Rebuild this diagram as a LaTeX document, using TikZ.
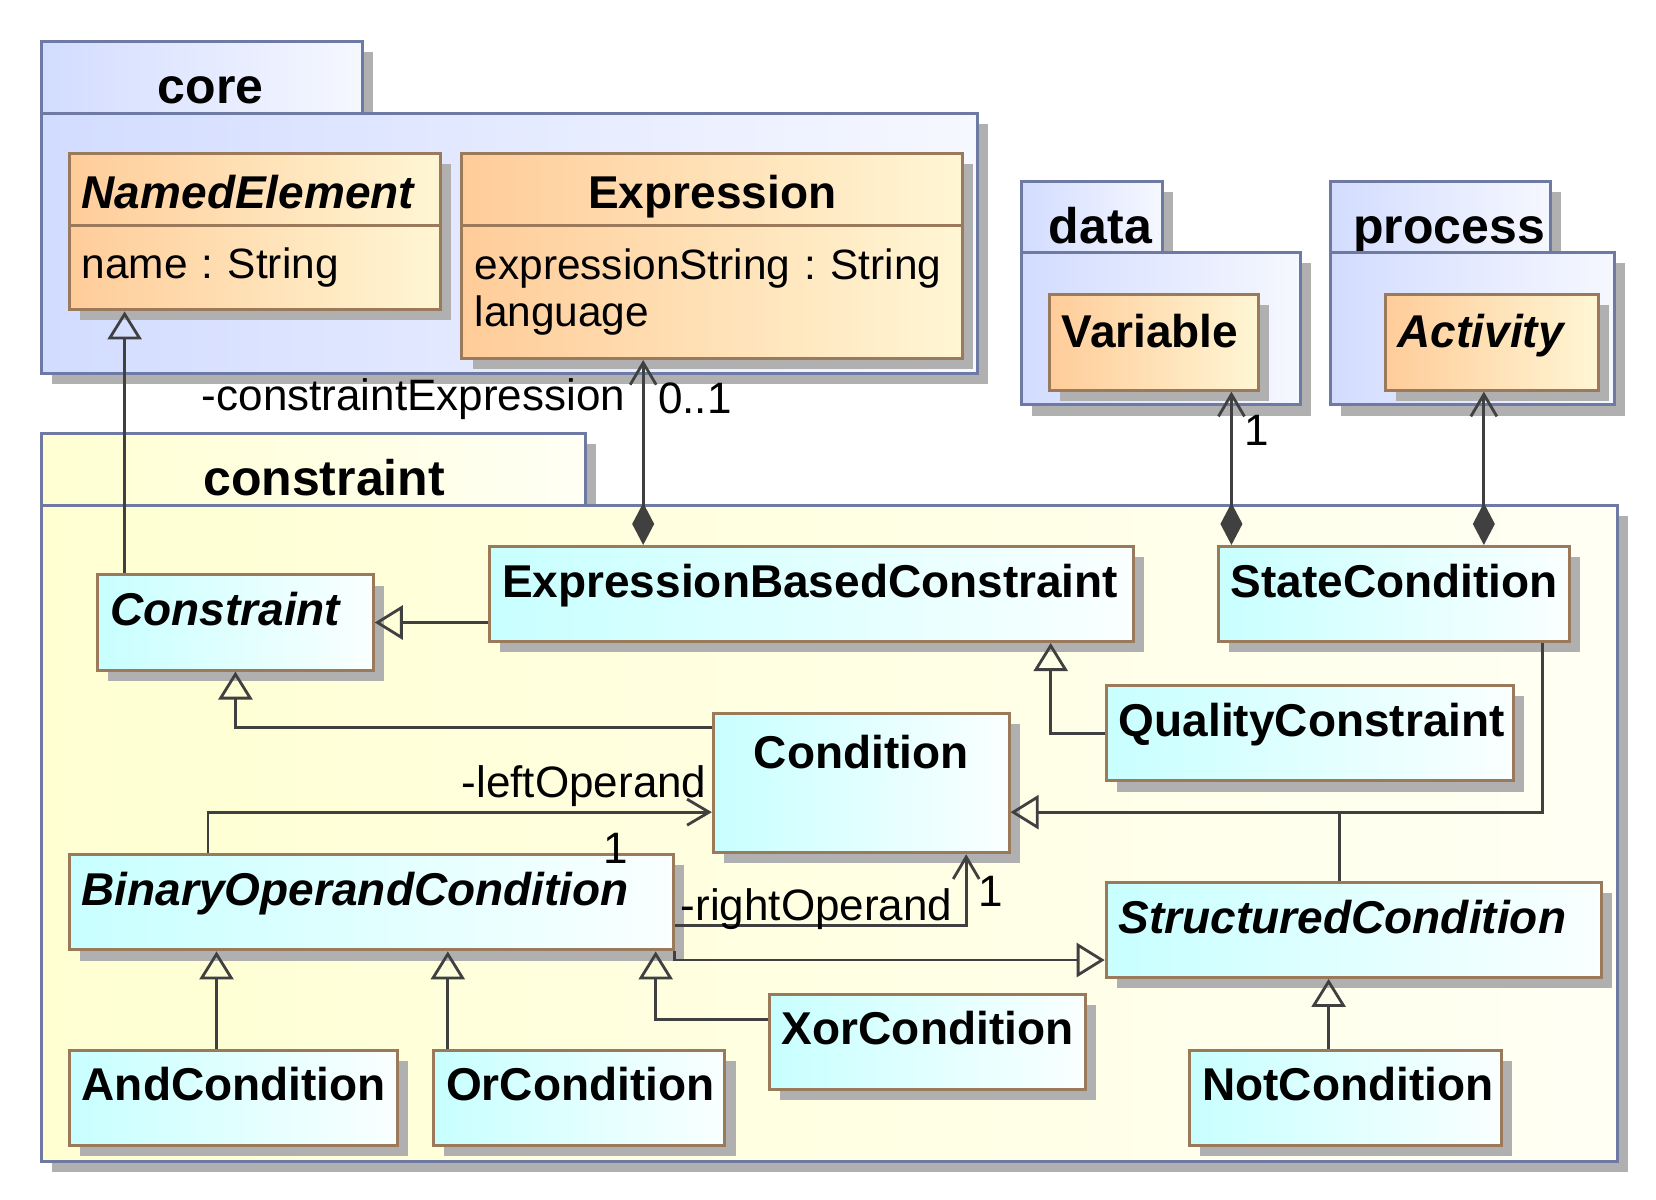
\documentclass[tikz,border=0pt]{standalone}
\usepackage{fontspec}
\setmainfont{Liberation Sans}
\usepackage{tikz}
\usetikzlibrary{arrows.meta,shadows,positioning}

\newlength{\upx}
\setlength{\upx}{0.528pt}

\definecolor{pkgline}{HTML}{6E7AA3}
\definecolor{pkgblue}{HTML}{D2DCFF}
\definecolor{pkgblueR}{HTML}{F6F8FF}
\definecolor{pkgyellow}{HTML}{FFFFD2}
\definecolor{pkgyellowR}{HTML}{FFFFF4}
\definecolor{clsline}{HTML}{9A7A5A}
\definecolor{orangeL}{HTML}{FFCC99}
\definecolor{orangeR}{HTML}{FFF6D4}
\definecolor{cyanL}{HTML}{C8FFFF}
\definecolor{cyanR}{HTML}{FAFFFF}
\definecolor{shadowgray}{HTML}{B0B0B0}
\definecolor{linegray}{HTML}{404040}

\newcommand{\clsfont}{\fontsize{23}{27}\selectfont\bfseries}
\newcommand{\pkgfont}{\fontsize{25}{30}\selectfont\bfseries}
\newcommand{\lblfont}{\fontsize{22}{23.2}\selectfont}
\newcommand{\attrfont}{\fontsize{21.2}{23.2}\selectfont}

\tikzset{
  boxshadow/.style={drop shadow={shadow xshift=5.3pt, shadow yshift=-5.3pt, fill=shadowgray, opacity=1}},
  pkgbody/.style={draw=pkgline, line width=1.5pt, boxshadow, anchor=north west, inner sep=0pt},
  pkgtab/.style={pkgbody, font=\pkgfont, text height=59\upx, text depth=9\upx},
  bluepkg/.style={left color=pkgblue, right color=pkgblueR},
  yellowpkg/.style={left color=pkgyellow, right color=pkgyellowR},
  clsbase/.style={draw=clsline, line width=1.5pt, boxshadow, anchor=north west, inner xsep=12\upx, inner ysep=0pt, align=left, font=\clsfont},
  cls/.style={clsbase, text height=48\upx, text depth=42\upx},
  cyancls/.style={cls, left color=cyanL, right color=cyanR},
  orangecls/.style={cls, left color=orangeL, right color=orangeR},
  attrs/.style={clsbase, left color=orangeL, right color=orangeR, font=\attrfont},
  conn/.style={draw=linegray, line width=1.4pt},
  gen/.style={conn, -{Triangle[open, length=14pt, width=17pt]}},
  assoc/.style={conn, -{Straight Barb[length=11pt, width=13pt]}},
  comp/.style={conn, {Diamond[length=21pt, width=11pt]}-{Straight Barb[length=11pt, width=13pt]}},
  lbl/.style={font=\lblfont, inner sep=2pt}
}

\begin{document}
\begin{tikzpicture}[x=0.528pt, y=-0.528pt]
  \useasboundingbox (0,0) rectangle (1568,1136);

  % packages
  \node[pkgtab, bluepkg, minimum width=304\upx] (coretab) at (38,38) {\hspace*{16\upx}core};
  \node[pkgbody, bluepkg, minimum width=886\upx, minimum height=246\upx] (corepkg) at (38,106) {};
  \node[pkgtab, bluepkg, minimum width=133\upx] (datatab) at (966,170) {\hspace*{16\upx}data};
  \node[pkgbody, bluepkg, minimum width=264\upx, minimum height=144\upx] (datapkg) at (966,238) {};
  \node[pkgtab, bluepkg, minimum width=209\upx] (processtab) at (1258,170) {\hspace*{16\upx}process};
  \node[pkgbody, bluepkg, minimum width=269\upx, minimum height=144\upx] (processpkg) at (1258,238) {};
  \node[pkgtab, yellowpkg, minimum width=515\upx] (constrainttab) at (38,409) {\hspace*{20\upx}constraint};
  \node[pkgbody, yellowpkg, minimum width=1492\upx, minimum height=621\upx] (constraintpkg) at (38,477) {};

  % core classes
  \node[orangecls, text width=328\upx, text height=52\upx, text depth=16\upx] (NamedElement) at (64,144) {\textit{NamedElement}};
  \node[attrs, text width=328\upx, minimum height=80\upx] (NamedElementAttr) at (64,212) {name~:~String};
  \node[orangecls, align=center, text width=450\upx, text height=52\upx, text depth=16\upx] (Expression) at (436,144) {Expression};
  \node[attrs, text width=450\upx, minimum height=126\upx] (ExpressionAttr) at (436,212) {expressionString~:~String\\language};

  % data and process classes
  \node[orangecls, text width=174\upx, text height=51\upx, text depth=40\upx] (Variable) at (992,277) {Variable};
  \node[orangecls, text width=178\upx, text height=51\upx, text depth=40\upx] (Activity) at (1310,277) {\textit{Activity}};

  % constraint classes
  \node[cyancls, text width=237\upx] (Constraint) at (91,543) {\textit{Constraint}};
  \node[cyancls, text width=586\upx] (EBC) at (462,516) {ExpressionBasedConstraint};
  \node[cyancls, text width=309\upx] (StateCondition) at (1152,516) {StateCondition};
  \node[cyancls, text width=362\upx] (QualityConstraint) at (1046,648) {QualityConstraint};
  \node[cyancls, align=center, text width=256\upx, text height=52\upx, text depth=80\upx] (Condition) at (674,674) {Condition};
  \node[cyancls, text width=548\upx] (BOC) at (64,808) {\textit{BinaryOperandCondition}};
  \node[cyancls, text width=445\upx] (StructuredCondition) at (1046,834) {\textit{StructuredCondition}};
  \node[cyancls, text width=275\upx] (XorCondition) at (727,940) {XorCondition};
  \node[cyancls, text width=287\upx] (AndCondition) at (64,993) {AndCondition};
  \node[cyancls, text width=252\upx] (OrCondition) at (409,993) {OrCondition};
  \node[cyancls, text width=271\upx] (NotCondition) at (1125,993) {NotCondition};

  % generalizations
  \draw[gen] ([xshift=27\upx]Constraint.north west) coordinate (g1) -- (g1 |- NamedElementAttr.south);
  \draw[gen] (EBC.west |- Constraint.east) -- (Constraint.east);
  \draw[gen] ([yshift=-15\upx]Condition.north west) -| (Constraint.south);
  \draw[gen] (QualityConstraint.west) -| ([xshift=-80\upx]EBC.south east);
  \coordinate (condin) at ([yshift=-95\upx]Condition.north east);
  \draw[gen] ([xshift=-27\upx]StateCondition.south east) |- (condin);
  \draw[conn] ([xshift=222\upx]StructuredCondition.north west) coordinate (g2) -- (g2 |- condin);
  \draw[gen] (BOC.south east) |- ([yshift=-75\upx]StructuredCondition.north west);
  \draw[gen] ([xshift=141\upx]AndCondition.north west) coordinate (g3) -- (g3 |- BOC.south);
  \draw[gen] ([xshift=15\upx]OrCondition.north west) coordinate (g4) -- (g4 |- BOC.south);
  \draw[gen] ([yshift=-25\upx]XorCondition.north west) -| ([xshift=-18\upx]BOC.south east);
  \draw[gen] ([xshift=133\upx]NotCondition.north west) coordinate (g5) -- (g5 |- StructuredCondition.south);

  % associations
  \draw[comp] ([xshift=147\upx]EBC.north west) coordinate (a1) -- (a1 |- ExpressionAttr.south)
    node[lbl, pos=0.79, left=12\upx] (exprrole) {-constraintExpression}
    node[lbl, pos=0.79, right=9\upx] (exprmult) {0..1};
  \draw[comp] ([xshift=14\upx]StateCondition.north west) coordinate (a2) -- (a2 |- Variable.south)
    node[lbl, pos=0.75, right=7\upx] (varmult) {1};
  \draw[comp] ([xshift=253\upx]StateCondition.north west) coordinate (a3) -- (a3 |- Activity.south);
  \draw[assoc] ([xshift=133\upx]BOC.north west) |- ([yshift=-95\upx]Condition.north west)
    node[lbl, pos=1, anchor=base east, yshift=14\upx] (leftrole) {-leftOperand}
    node[lbl, pos=0.905, anchor=base, yshift=-49\upx] (leftmult) {1};
  \draw[assoc] ([yshift=-68\upx]BOC.north east) -| ([xshift=-42\upx]Condition.south east)
    node[lbl, pos=0.5, anchor=base east, xshift=-8\upx, yshift=4\upx] (rightrole) {-rightOperand}
    node[lbl, pos=0.74, right=7\upx] (rightmult) {1};
\end{tikzpicture}
\end{document}
